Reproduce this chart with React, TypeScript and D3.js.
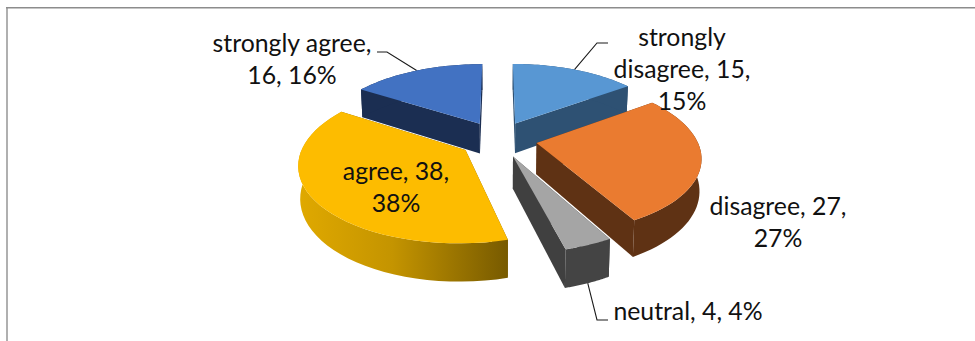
import React from "react";
import * as d3 from "d3";

const categories = ["strongly disagree", "disagree", "neutral", "agree", "strongly agree"];
const counts = [15, 27, 4, 38, 16];
const percents = [15, 27, 4, 38, 16];
const labelLines = [
  ["strongly", "disagree, 15,", "15%"],
  ["disagree, 27,", "27%"],
  ["neutral, 4, 4%"],
  ["agree, 38,", "38%"],
  ["strongly agree,", "16, 16%"],
];

const WIDTH = 975;
const HEIGHT = 341;

// Scene parameters for the tilted, exploded pie
const CX = 498;
const CY = 139;
const RX = 160;
const RY = 74;
const PERSPECTIVE = 0.165;
const EXPLODE = 0.245;
const THICKNESS = 31;
const BOTTOM_SHRINK = 0.99;

const topFill = ["#5897d3", "#ea7b30", "#a5a5a5", "#fdbc00", "#4272c2"];
const sideFill = ["#2e5173", "#5f3214", "#444444", "url(#agreeWall)", "#1b2e52"];
const cutFill = ["#2e5173", "#5f3214", "#404040", "#7a5c00", "#1b2e52"];

// Back-to-front painting order
const paintOrder = [0, 4, 2, 3, 1];

// Text placement: centre x and first baseline of each label
const labelAnchors = [
  { x: 682, y: 46 },
  { x: 778, y: 215 },
  { x: 688, y: 320 },
  { x: 396, y: 180 },
  { x: 292, y: 52 },
];
const LINE_HEIGHT = 32;

type Pt = [number, number];

function project(u: number, v: number, bottom: boolean): Pt {
  const s = 1 / (1 + PERSPECTIVE * v);
  const k = bottom ? BOTTOM_SHRINK : 1;
  const x = CX + RX * u * s * k;
  const y = CY - RY * v * s + (bottom ? THICKNESS * s : 0);
  return [x, y];
}

const path = d3.line<Pt>().x((d) => d[0]).y((d) => d[1]);

const arcs = d3
  .pie<number>()
  .sort(null)
  .startAngle(0)
  .endAngle(2 * Math.PI)(counts);

function sliceGeometry(i: number) {
  const { startAngle, endAngle } = arcs[i];
  const mid = (startAngle + endAngle) / 2;
  const ox = EXPLODE * Math.sin(mid);
  const oy = EXPLODE * Math.cos(mid);
  const at = (a: number, r: number, bottom: boolean) =>
    project(ox + r * Math.sin(a), oy + r * Math.cos(a), bottom);
  const samples = d3.range(0, 41).map((t) => startAngle + ((endAngle - startAngle) * t) / 40);
  const topArc = samples.map((a) => at(a, 1, false));
  const bottomArc = samples.map((a) => at(a, 1, true));
  const apexTop = at(0, 0, false);
  const apexBottom = at(0, 0, true);
  return {
    top: path([apexTop, ...topArc])! + "Z",
    wall: path([...topArc, ...[...bottomArc].reverse()])! + "Z",
    cutStart: path([apexTop, topArc[0], bottomArc[0], apexBottom])! + "Z",
    cutEnd: path([apexTop, topArc[40], bottomArc[40], apexBottom])! + "Z",
    rim: (bottom: boolean) => at(mid, 1, bottom),
  };
}

// Leader lines run from the rim of a slice to an elbow next to its label
const leaders = [
  { slice: 0, bottom: false, elbow: [597, 43] as Pt, end: [608, 43] as Pt },
  { slice: 2, bottom: true, elbow: [597, 320] as Pt, end: [608, 320] as Pt },
  { slice: 4, bottom: false, elbow: [387, 52] as Pt, end: [377, 52] as Pt },
];

export default function App() {
  return (
    <svg
      width={WIDTH}
      height={HEIGHT}
      viewBox={`0 0 ${WIDTH} ${HEIGHT}`}
      style={{ position: "absolute", left: 0, top: 0, display: "block", background: "#fff" }}
    >
      <defs>
        <linearGradient id="agreeWall" gradientUnits="userSpaceOnUse" x1={298} x2={508} y1={0} y2={0}>
          <stop offset="0" stopColor="#e0a900" />
          <stop offset="0.45" stopColor="#c49400" />
          <stop offset="1" stopColor="#775a00" />
        </linearGradient>
      </defs>

      <rect x={6} y={7} width={2} height={HEIGHT - 7} fill="#b0b0b0" />
      <rect x={6} y={7} width={WIDTH - 6} height={1.5} fill="#8c8c8c" />

      {leaders.map((l) => (
        <polyline
          key={l.slice}
          points={[sliceGeometry(l.slice).rim(l.bottom), l.elbow, l.end].map((p) => p.join(",")).join(" ")}
          fill="none"
          stroke="#1a1a1a"
          strokeWidth={1.1}
        />
      ))}

      {paintOrder.map((i) => {
        const g = sliceGeometry(i);
        return (
          <g key={categories[i]}>
            <path d={g.cutStart} fill={cutFill[i]} />
            <path d={g.cutEnd} fill={cutFill[i]} />
            <path d={g.wall} fill={sideFill[i]} />
            <path d={g.top} fill={topFill[i]} />
          </g>
        );
      })}

      {labelLines.map((lines, i) => (
        <text
          key={categories[i]}
          data-percent={percents[i]}
          textAnchor="middle"
          fontFamily="Lato, 'Open Sans', sans-serif"
          fontSize={24.8}
          fill="#111"
        >
          {lines.map((line, j) => (
            <tspan key={line} x={labelAnchors[i].x} y={labelAnchors[i].y + j * LINE_HEIGHT}>
              {line}
            </tspan>
          ))}
        </text>
      ))}
    </svg>
  );
}
